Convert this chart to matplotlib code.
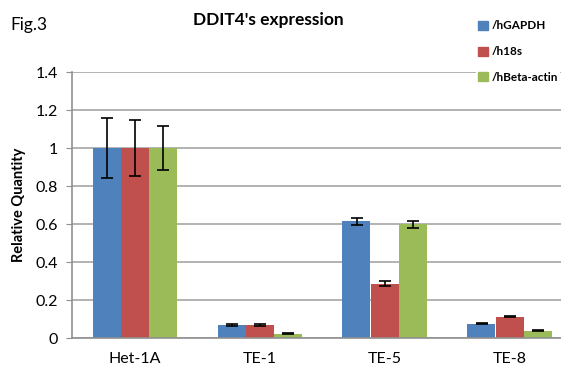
import numpy as np
import matplotlib.pyplot as plt
from matplotlib.patches import Patch

cells = ['Het-1A', 'TE-1', 'TE-5', 'TE-8']
series = ['/hGAPDH', '/h18s', '/hBeta-actin']
gapdh = [1.0, 0.070, 0.615, 0.075]
h18s = [1.0, 0.070, 0.285, 0.113]
beta = [1.0, 0.022, 0.598, 0.038]
gapdh_err = [0.158, 0.005, 0.018, 0.003]
h18s_err = [0.147, 0.005, 0.013, 0.003]
beta_err = [0.115, 0.003, 0.017, 0.003]

colors = ['#4F81BD', '#C0504D', '#9BBB59']
plt.rcParams['font.family'] = ['Lato', 'DejaVu Sans']

fig = plt.figure(figsize=(5.61, 3.69), dpi=100)
ax = fig.add_axes([72 / 561, 31 / 369, 500 / 561, 266 / 369])

x = np.arange(len(cells)) + 0.5
w = 0.224
for i, (vals, errs) in enumerate([(gapdh, gapdh_err), (h18s, h18s_err), (beta, beta_err)]):
    ax.bar(x + (i - 1) * w, vals, w, color=colors[i], zorder=2)
    ax.errorbar(x + (i - 1) * w, vals, yerr=errs, fmt='none', ecolor='black',
                elinewidth=1.2, capsize=4, capthick=1.2, zorder=3)

ax.set_xlim(0, 4)
ax.set_ylim(0, 1.4)
ax.set_yticks(np.arange(0, 1.41, 0.2))
ax.set_yticklabels(['0', '0.2', '0.4', '0.6', '0.8', '1', '1.2', '1.4'], fontsize=11.5)
ax.set_xticks(x)
ax.set_xticklabels(cells, fontsize=11.5)
ax.tick_params(axis='x', length=0, pad=10)
ax.tick_params(axis='y', length=4, color='#909090', pad=6)
ax.yaxis.grid(True, color='#A6A6A6', linewidth=1.2, zorder=0)
ax.set_axisbelow(True)
for s in ['top', 'right']:
    ax.spines[s].set_visible(False)
for s in ['left', 'bottom']:
    ax.spines[s].set_color('#909090')
    ax.spines[s].set_linewidth(1.2)

ax.set_ylabel('Relative Quantity', fontsize=10.5, fontweight='bold', labelpad=7)

fig.text(268 / 561, 1 - 20 / 369, "DDIT4's expression", ha='center', va='center',
         fontsize=12.5, fontweight='bold')
fig.text(10 / 561, 1 - 25 / 369, 'Fig.3', ha='left', va='center', fontsize=12.5)

handles = [Patch(color=c) for c in colors]
leg = fig.legend(handles, series, loc='upper left', bbox_to_anchor=(476 / 561, 1 - 18 / 369),
                 prop={'size': 8.5, 'weight': 'bold'}, frameon=True, facecolor='white',
                 edgecolor='none', framealpha=1, handlelength=0.8, handleheight=0.8,
                 handletextpad=0.3, labelspacing=1.25, borderpad=0.2, borderaxespad=0)

fig.savefig('out.png', dpi=100)
